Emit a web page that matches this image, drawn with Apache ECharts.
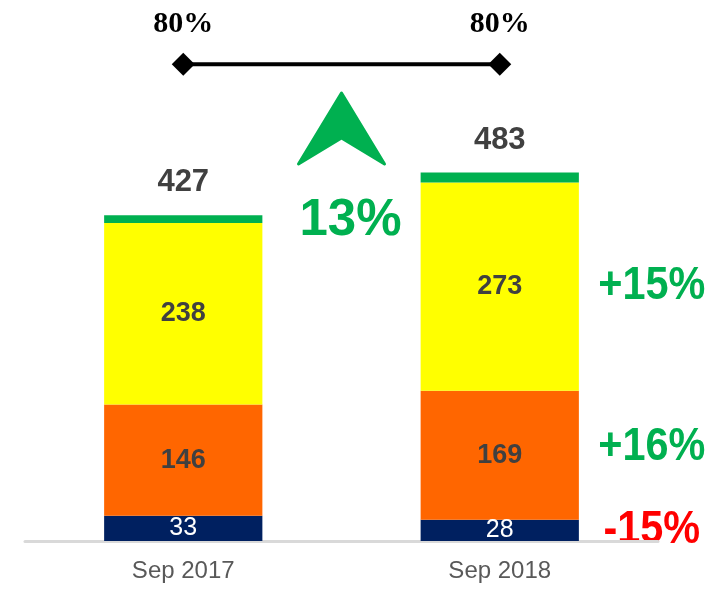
<!DOCTYPE html>
<html>
<head>
<meta charset="utf-8">
<script src="https://cdn.jsdelivr.net/npm/echarts@6/dist/echarts.min.js"></script>
<style>
html,body{margin:0;padding:0;background:#fff;}
#chart{width:714px;height:603px;}
</style>
</head>
<body>
<div id="chart"></div>
<script>
const categories = ['Sep 2017', 'Sep 2018'];
const navyValues = [33, 28];
const orangeValues = [146, 169];
const yellowValues = [238, 273];
const greenValues = [10, 13];
const totals = [427, 483];
const ratioValues = [80, 80];
const ratioLabels = ['80%', '80%'];
const yellowChange = '+15%';
const orangeChange = '+16%';
const navyChange = '-15%';
const totalGrowth = '13%';

const chart = echarts.init(document.getElementById('chart'), null, {renderer: 'canvas'});
const FONT = 'Liberation Sans, Arial, sans-serif';
const DARK = '#404040';
const GREEN = '#00B050';

const barLabel = (color, weight) => ({
  show: true, position: 'inside', color: color, fontWeight: weight,
  fontSize: 27, fontFamily: FONT
});

chart.setOption({
  animation: false,
  grid: {left: 25, right: 56, top: 7, bottom: 62},
  xAxis: {
    type: 'category', data: categories,
    axisLine: {lineStyle: {color: '#D9D9D9', width: 3}},
    axisTick: {show: false},
    axisLabel: {color: '#595959', fontSize: 24, fontFamily: FONT, margin: 18}
  },
  yAxis: [
    {type: 'value', min: 0, max: 700, show: false, splitLine: {show: false}},
    {type: 'value', min: 0, max: 89.6, show: false, splitLine: {show: false}}
  ],
  series: [
    {name: 'navy', type: 'bar', stack: 'a', barWidth: '50%', data: navyValues,
     itemStyle: {color: '#002060'},
     label: {show: true, position: 'inside', color: '#fff', fontWeight: 'normal', fontSize: 25, fontFamily: FONT}},
    {name: 'orange', type: 'bar', stack: 'a', data: orangeValues,
     itemStyle: {color: '#FF6600'}, label: barLabel(DARK, 'bold')},
    {name: 'yellow', type: 'bar', stack: 'a', data: yellowValues,
     itemStyle: {color: '#FFFF00'}, label: barLabel(DARK, 'bold')},
    {name: 'green', type: 'bar', stack: 'a', data: greenValues,
     itemStyle: {color: GREEN},
     label: {show: true, position: 'top', distance: 17, color: DARK, fontWeight: 'bold',
             fontSize: 31, fontFamily: FONT, formatter: p => String(totals[p.dataIndex])}},
    {name: 'ratio', type: 'line', yAxisIndex: 1, data: ratioValues,
     symbol: 'diamond', symbolSize: 23, clip: false,
     lineStyle: {color: '#000', width: 4}, itemStyle: {color: '#000'},
     label: {show: true, position: 'top', distance: 13, color: '#000', fontWeight: 'bold',
             fontSize: 30, fontFamily: 'Liberation Serif, Times New Roman, serif',
             formatter: p => ratioLabels[p.dataIndex]}}
  ]
});

function px(idx, val) { return chart.convertToPixel({gridIndex: 0}, [idx, val]); }

const c0 = px(0, 0), c1 = px(1, 0);
const midX = (c0[0] + c1[0]) / 2;
const rightX = c1[0] + 152;
const yYellow = px(1, navyValues[1] + orangeValues[1] + yellowValues[1] / 2)[1];
const yOrange = px(1, navyValues[1] + orangeValues[1] / 2)[1] - 8;
const yNavy = px(1, navyValues[1] / 2)[1];

const changeText = (txt, y, color) => ({
  type: 'text', x: rightX, y: y, scaleX: 0.9,
  style: {text: txt, fill: color, font: 'bold 46px ' + FONT, textAlign: 'center', textVerticalAlign: 'middle'}
});

chart.setOption({
  graphic: [
    changeText(yellowChange, yYellow, GREEN),
    changeText(orangeChange, yOrange, GREEN),
    changeText(navyChange, yNavy, '#FF0000'),
    {type: 'polygon', shape: {points: [[midX, 93], [midX + 43, 164], [midX, 138], [midX - 43, 164]]},
     style: {fill: GREEN, stroke: GREEN, lineWidth: 3, lineJoin: 'round'}},
    {type: 'text', x: midX + 9, y: 221,
     style: {text: totalGrowth, fill: GREEN, font: 'bold 51px ' + FONT, textAlign: 'center', textVerticalAlign: 'middle'}}
  ]
});
</script>
</body>
</html>
